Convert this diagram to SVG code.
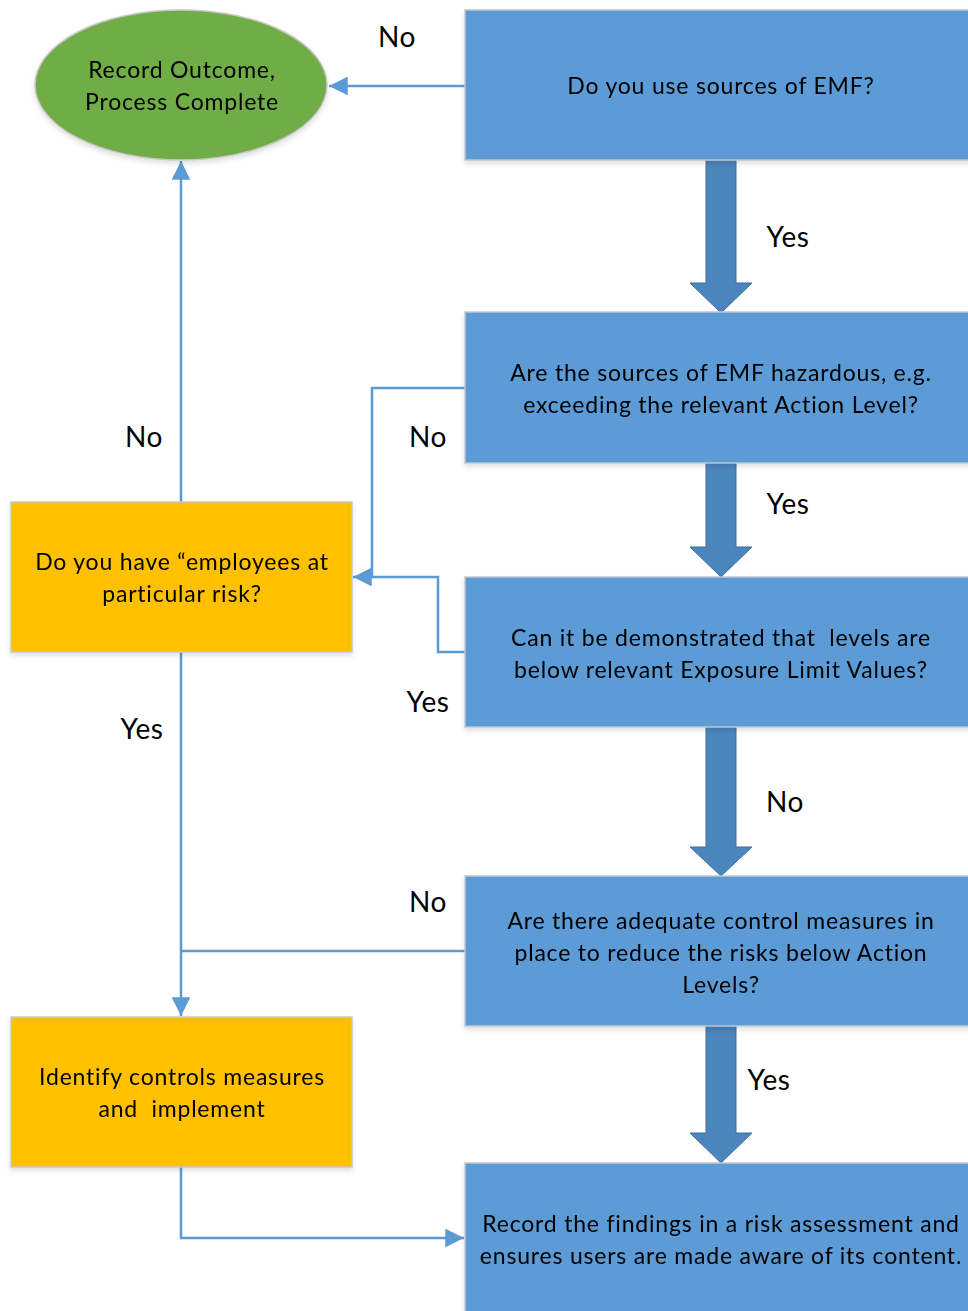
<svg xmlns="http://www.w3.org/2000/svg" width="968" height="1311" viewBox="0 0 968 1311">
<style>
.blue{fill:#5B9BD5;stroke:#BFC7CF;stroke-width:1.5}
.orange{fill:#FFC000;stroke:#C9C9C9;stroke-width:1.5}
.green{fill:#70AD47;stroke:#C8C8C8;stroke-width:1.5}
.t{font-family:Lato,"Open Sans","Liberation Sans",sans-serif;font-size:23px;letter-spacing:0.8px;fill:#000;text-anchor:middle;dominant-baseline:central;white-space:pre}
.lbl{font-family:Lato,"Open Sans","Liberation Sans",sans-serif;font-size:28px;letter-spacing:0.5px;fill:#000;text-anchor:middle;dominant-baseline:central}
.ln{fill:none;stroke:#5B9BD5;stroke-width:2.5}
.big{fill:#4A85BD;stroke:#41719C;stroke-width:1}
</style>
<defs>
<marker id="ah2" viewBox="0 0 10 10" refX="10" refY="5" markerWidth="7.5" markerHeight="7.5" orient="auto">
<path d="M0,0 L10,5 L0,10 z" fill="#5B9BD5"/>
</marker>
<filter id="sh" x="-5%" y="-5%" width="110%" height="115%">
<feDropShadow dx="0" dy="3" stdDeviation="2.5" flood-color="#000" flood-opacity="0.12"/>
</filter>
</defs>

<g id="connectors">
<path class="ln" d="M465,86 H329" marker-end="url(#ah2)"/>
<path class="ln" d="M181,502 V161" marker-end="url(#ah2)"/>
<path class="ln" d="M465,388 H372 V577 H353" marker-end="url(#ah2)"/>
<path class="ln" d="M465,652 H438 V577 H372"/>
<path class="ln" d="M181,652 V1016" marker-end="url(#ah2)"/>
<path class="ln" d="M465,951 H181"/>
<path class="ln" d="M181,1167 V1238 H464" marker-end="url(#ah2)"/>
<path class="big" d="M706,160 H736 V283 H752 L721,313 L690,283 H706 Z"/>
<path class="big" d="M706,463 H736 V547 H752 L721,577 L690,547 H706 Z"/>
<path class="big" d="M706,727 H736 V847 H752 L721,876 L690,847 H706 Z"/>
<path class="big" d="M706,1026 H736 V1133 H752 L721,1163 L690,1133 H706 Z"/>
</g>

<g id="labels">
<text class="lbl" x="397" y="36">No</text>
<text class="lbl" x="788" y="236">Yes</text>
<text class="lbl" x="144" y="436">No</text>
<text class="lbl" x="428" y="436">No</text>
<text class="lbl" x="788" y="503">Yes</text>
<text class="lbl" x="428" y="701">Yes</text>
<text class="lbl" x="142" y="728">Yes</text>
<text class="lbl" x="785" y="801">No</text>
<text class="lbl" x="428" y="901">No</text>
<text class="lbl" x="769" y="1079">Yes</text>
</g>

<g id="n_complete" filter="url(#sh)">
<ellipse class="green" cx="181" cy="85" rx="146" ry="75"/>
<text class="t" x="182" y="69">Record Outcome,</text>
<text class="t" x="182" y="101">Process Complete</text>
</g>

<g id="n_use" filter="url(#sh)">
<rect class="blue" x="465" y="10" width="510" height="150"/>
<text class="t" x="721" y="85">Do you use sources of EMF?</text>
</g>

<g id="n_hazard" filter="url(#sh)">
<rect class="blue" x="465" y="312" width="510" height="151"/>
<text class="t" x="721" y="372">Are the sources of EMF hazardous, e.g.</text>
<text class="t" x="721" y="404">exceeding the relevant Action Level?</text>
</g>

<g id="n_demo" filter="url(#sh)">
<rect class="blue" x="465" y="577" width="510" height="150"/>
<text class="t" x="721" y="637">Can it be demonstrated that  levels are</text>
<text class="t" x="721" y="669">below relevant Exposure Limit Values?</text>
</g>

<g id="n_control" filter="url(#sh)">
<rect class="blue" x="465" y="876" width="510" height="150"/>
<text class="t" x="721" y="920">Are there adequate control measures in</text>
<text class="t" x="721" y="952">place to reduce the risks below Action</text>
<text class="t" x="721" y="984">Levels?</text>
</g>

<g id="n_record" filter="url(#sh)">
<rect class="blue" x="465" y="1163" width="510" height="160"/>
<text class="t" x="721" y="1223">Record the findings in a risk assessment and</text>
<text class="t" x="721" y="1255">ensures users are made aware of its content.</text>
</g>

<g id="n_risk" filter="url(#sh)">
<rect class="orange" x="11" y="502" width="341" height="150"/>
<text class="t" x="182" y="561">Do you have “employees at</text>
<text class="t" x="182" y="593">particular risk?</text>
</g>

<g id="n_identify" filter="url(#sh)">
<rect class="orange" x="11" y="1017" width="341" height="150"/>
<text class="t" x="182" y="1076">Identify controls measures</text>
<text class="t" x="182" y="1108">and  implement</text>
</g>
</svg>
